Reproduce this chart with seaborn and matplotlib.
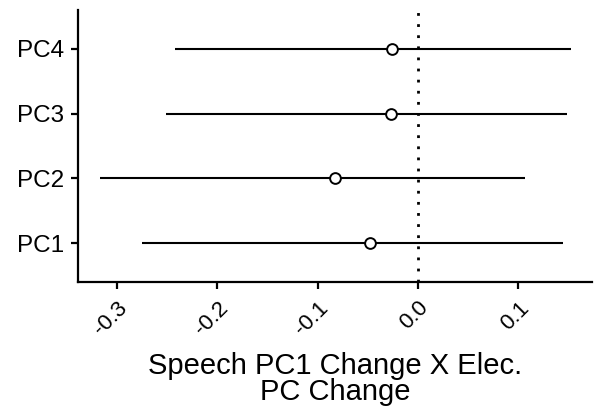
import matplotlib
matplotlib.use("Agg")
import matplotlib.pyplot as plt
import seaborn as sns
import pandas as pd

categories = ["PC1", "PC2", "PC3", "PC4"]
estimates = [-0.0474, -0.0823, -0.0274, -0.0264]
lower = [-0.2747, -0.3166, -0.251, -0.242]
upper = [0.145, 0.107, 0.149, 0.153]
xticks = [-0.3, -0.2, -0.1, 0.0, 0.1]
xticklabels = ["-0.3", "-0.2", "-0.1", "0.0", "0.1"]

sns.set_theme(style="ticks")
plt.rcParams['font.family'] = ['Liberation Sans', 'DejaVu Sans']
plt.rcParams['text.color'] = 'black'
plt.rcParams['axes.labelcolor'] = 'black'

df = pd.DataFrame({"term": categories, "est": estimates, "lo": lower, "hi": upper})
df["pos"] = range(1, len(categories) + 1)

fig = plt.figure(figsize=(5.95, 4.12), dpi=100)
ax = fig.add_axes([0.131, 0.3155, 0.864, 0.6605])

ax.hlines(df["pos"], df["lo"], df["hi"], color="black", linewidth=1.5, zorder=2)
ax.axvline(0, color="black", linestyle=(0, (1, 3)), linewidth=2, zorder=1)
sns.scatterplot(data=df, x="est", y="pos", ax=ax, marker="o", s=60,
                facecolor="white", edgecolor="black", linewidth=1.4, zorder=3)

ax.set_xlim(-0.339, 0.1735)
ax.set_ylim(0.4, 4.6)
ax.set_yticks(df["pos"])
ax.set_yticklabels(categories)
ax.set_xticks(xticks)
ax.set_xticklabels(xticklabels, rotation=45, ha="right", va="top", rotation_mode="anchor")
ax.set_ylabel("")
ax.set_xlabel("Speech PC1 Change X Elec.\nPC Change", fontsize=21, labelpad=9,
              linespacing=0.92, color="black")

for s in ["top", "right"]:
    ax.spines[s].set_visible(False)
for s in ["left", "bottom"]:
    ax.spines[s].set_linewidth(1.6)
    ax.spines[s].set_color("black")
ax.tick_params(axis="both", length=5, width=1.6, color="black", labelcolor="black")
ax.tick_params(axis="x", labelsize=16, pad=6)
ax.tick_params(axis="y", labelsize=17.5, pad=5)

fig.savefig("out.png", dpi=100)
